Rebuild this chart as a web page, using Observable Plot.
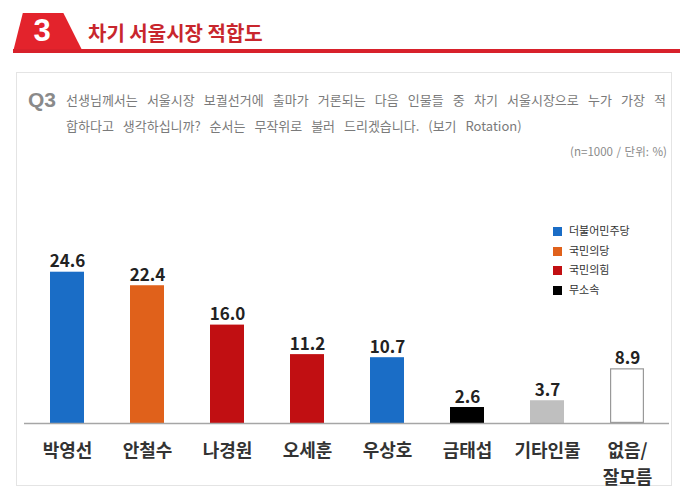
<!DOCTYPE html>
<html>
<head>
<meta charset="utf-8">
<script src="https://cdn.jsdelivr.net/npm/d3@7"></script>
<script src="https://cdn.jsdelivr.net/npm/@observablehq/plot@0.6"></script>
<style>
  html, body { margin: 0; padding: 0; background: #fff; }
  #root { position: relative; width: 680px; height: 497px; overflow: hidden; background: #fff;
          font-family: "Noto Sans CJK KR", "Noto Sans", sans-serif; }
  .abs { position: absolute; white-space: nowrap; }
  #tab { left: 13px; top: 13px; width: 70px; height: 39px; background: #e3232c;
         clip-path: polygon(14% 0%, 72% 0%, 100% 100%, 0% 100%); }
  #rule { left: 13px; top: 49px; width: 667px; height: 4px; background: #d8212b; }
  #num { left: 27px; top: 12px; width: 30px; text-align: center; color: #fff; font-weight: 700; font-size: 31px; line-height: 38px; font-family: "Liberation Sans", Arial, sans-serif; }
  #title { left: 88px; top: 20px; color: #c8262d; font-weight: 700; font-size: 20px; line-height: 26px; }
  #panel { left: 16px; top: 72px; width: 656px; height: 414px; border: 1px solid #e4e4e4; box-sizing: border-box; }
  #q { left: 28px; top: 87px; color: #8a8a8a; font-weight: 700; font-size: 21px; line-height: 26px; font-family: "Liberation Sans", Arial, sans-serif; }
  .qt { color: #7a7a7a; font-size: 13px; line-height: 18px; }
  #q1 { left: 66px; top: 91px; width: 600px; text-align: justify; text-align-last: justify; white-space: normal; }
  #q2 { left: 66px; top: 117px; word-spacing: 6px; }
  #note { right: 13px; top: 144px; color: #8a8a8a; font-size: 11.5px; line-height: 15px; word-spacing: 1px; }
  #legend .item { position: absolute; left: 553px; font-size: 11px; line-height: 13px; color: #333; }
  #legend .sw { display: inline-block; width: 9px; height: 9px; vertical-align: -1px; margin-right: 7px; }
  #chart { position: absolute; left: 0; top: 160px; }
</style>
</head>
<body>
<div id="root">
  <div id="panel" class="abs"></div>
  <div id="tab" class="abs"></div>
  <div id="rule" class="abs"></div>
  <div id="num" class="abs">3</div>
  <div id="title" class="abs">차기 서울시장 적합도</div>
  <div id="q" class="abs">Q3</div>
  <div id="q1" class="abs qt">선생님께서는 서울시장 보궐선거에 출마가 거론되는 다음 인물들 중 차기 서울시장으로 누가 가장 적</div>
  <div id="q2" class="abs qt">합하다고 생각하십니까? 순서는 무작위로 불러 드리겠습니다. (보기 Rotation)</div>
  <div id="note" class="abs">(n=1000 / 단위: %)</div>
  <div id="legend"></div>
  <div id="chart"></div>
</div>
<script>
const candidates = ["박영선", "안철수", "나경원", "오세훈", "우상호", "금태섭", "기타인물", "없음/잘모름"];
const tickLabels = ["박영선", "안철수", "나경원", "오세훈", "우상호", "금태섭", "기타인물", "없음/\n잘모름"];
const values = [24.6, 22.4, 16.0, 11.2, 10.7, 2.6, 3.7, 8.9];
const parties = ["더불어민주당", "국민의당", "국민의힘", "국민의힘", "더불어민주당", "무소속", "기타", "없음"];
const partyNames = ["더불어민주당", "국민의당", "국민의힘", "무소속", "기타", "없음"];
const partyColors = ["#1a6dc6", "#e0611b", "#c10f12", "#000000", "#bfbfbf", "#ffffff"];
const legendParties = ["더불어민주당", "국민의당", "국민의힘", "무소속"];

const data = candidates.map((name, i) => ({
  name, value: values[i], party: parties[i], label: tickLabels[i], text: values[i].toFixed(1)
}));

// legend
const legend = document.getElementById("legend");
legendParties.forEach((p, i) => {
  const el = document.createElement("div");
  el.className = "item";
  el.style.top = (224 + i * 19.5) + "px";
  const sw = document.createElement("span");
  sw.className = "sw";
  sw.style.background = partyColors[partyNames.indexOf(p)];
  el.appendChild(sw);
  el.appendChild(document.createTextNode(p));
  legend.appendChild(el);
});

const chart = Plot.plot({
  width: 680,
  height: 337,
  marginLeft: 24,
  marginRight: 11,
  marginTop: 17,
  marginBottom: 74,
  style: { fontFamily: "'Noto Sans CJK KR', sans-serif", background: "transparent" },
  x: { domain: candidates, paddingInner: 0.58, paddingOuter: 0.29, axis: null },
  y: { domain: [0, 40], axis: null },
  color: { domain: partyNames, range: partyColors },
  marks: [
    Plot.barY(data, { x: "name", y: "value", fill: "party" }),
    Plot.barY(data.filter(d => d.party === "없음"), { x: "name", y: "value", fill: "#fff", stroke: "#999", strokeWidth: 1.2, inset: 0.6 }),
    Plot.ruleY([0], { stroke: "#a6a6a6", strokeWidth: 1.5 }),
    Plot.text(data, { x: "name", y: "value", text: "text", lineAnchor: "bottom", dy: -5, fontSize: 17, fontWeight: 700, fill: "#222" }),
    Plot.text(data, { x: "name", y: 0, text: "label", lineAnchor: "top", dy: 14, fontSize: 18, fontWeight: 700, fill: "#333", lineHeight: 1.5 })
  ]
});
document.getElementById("chart").appendChild(chart);
</script>
</body>
</html>
